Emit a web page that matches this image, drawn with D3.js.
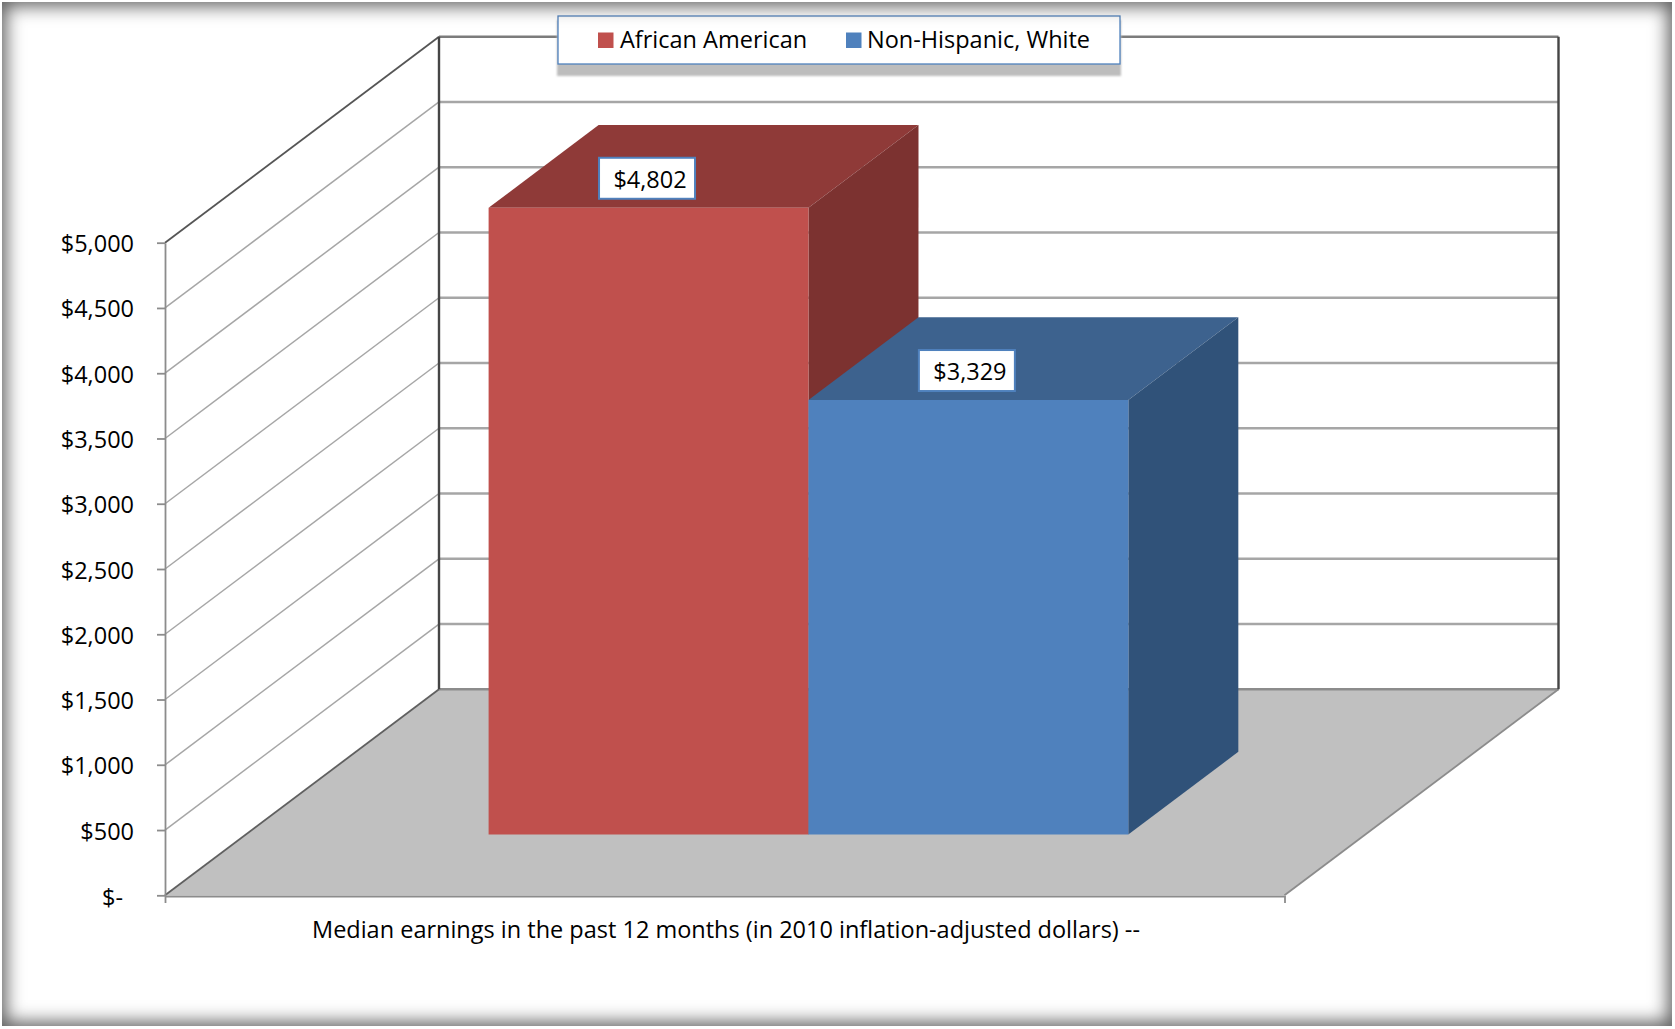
<!DOCTYPE html>
<html>
<head>
<meta charset="utf-8">
<script src="https://cdn.jsdelivr.net/npm/d3@7"></script>
<style>
    html, body { margin: 0; padding: 0; background: #ffffff; overflow: hidden; }
    #chart { position: relative; width: 1675px; height: 1029px; }
    #chart svg { position: absolute; left: 0; top: 0; }
    /* picture frame: soft grey glow running in from the edges */
    #frame {
        position: absolute; left: 2px; top: 2px; width: 1670px; height: 1024px;
        box-shadow: inset 0 0 18px 4px #5c5c5c;
        pointer-events: none;
    }
    text { font-family: "Open Sans", sans-serif; fill: #000000; }
</style>
</head>
<body>
<div id="chart"><div id="frame"></div></div>
<script>
// Data
const categories = ["Median earnings in the past 12 months (in 2010 inflation-adjusted dollars) --"];
const seriesNames = ["African American", "Non-Hispanic, White"];
const seriesValues = [4802, 3329];
const yTicks = [0, 500, 1000, 1500, 2000, 2500, 3000, 3500, 4000, 4500, 5000];
const dataLabels = ["$4,802", "$3,329"];

// Colours per series: front, top, side
const fronts = ["#c0504d", "#4f81bd"];
const tops = ["#8f3a38", "#3d628e"];
const sides = ["#7c3230", "#305279"];

const W = 1675, H = 1029;
const plotLeft = 165, plotRight = 1284.5;
const depthX = 274, depthY = 206;
const barZ = [0.295, 0.6965];   // bars stand in the middle of the floor depth

const svg = d3.select("#chart").insert("svg", "#frame")
    .attr("width", W)
    .attr("height", H)
    .attr("viewBox", `0 0 ${W} ${H}`);

const defs = svg.append("defs");
defs.append("filter").attr("id", "soft")
    .attr("x", "-5%").attr("y", "-20%").attr("width", "110%").attr("height", "140%")
    .append("feGaussianBlur").attr("stdDeviation", 1);
defs.append("filter").attr("id", "hair")
    .attr("filterUnits", "userSpaceOnUse")
    .attr("x", 0).attr("y", 0).attr("width", W).attr("height", H)
    .append("feGaussianBlur").attr("stdDeviation", 0.5);

// Scales
const yScale = d3.scaleLinear().domain([0, 5000]).range([895.3, 242.7]);
const xScale = d3.scaleBand()
    .domain(seriesNames)
    .range([plotLeft, plotRight])
    .paddingInner(0)
    .paddingOuter(0.75)
    .align(0.506);

// Oblique projection: front x, value, depth 0..1
const project = (x, v, z) => [x + z * depthX, yScale(v) - z * depthY];
const poly = pts => pts.map(p => p.join(",")).join(" ");
const drawLine = (g, a, b, stroke, sw) => g.append("line")
    .attr("x1", a[0]).attr("y1", a[1])
    .attr("x2", b[0]).attr("y2", b[1])
    .attr("stroke", stroke)
    .attr("stroke-width", sw);

// Floor
const walls = svg.append("g").attr("filter", "url(#hair)");
walls.append("polygon")
    .attr("points", poly([
        project(plotLeft, 0, 0), project(plotRight, 0, 0),
        project(plotRight, 0, 1), project(plotLeft, 0, 1)
    ]))
    .attr("fill", "#c0c0c0");

// Grid lines: side wall, then back wall
yTicks.forEach(v => {
    if (v === 0) return;
    const isTop = v === 5000;
    drawLine(walls, project(plotLeft, v, 0), project(plotLeft, v, 1), isTop ? "#555555" : "#a6a6a6", isTop ? 1.8 : 1.5);
    drawLine(walls, project(plotLeft, v, 1), project(plotRight, v, 1), isTop ? "#7c7c7c" : "#a6a6a6", 2.4);
});

// Floor edges and wall corners
drawLine(walls, project(plotLeft, 0, 0), project(plotLeft, 0, 1), "#606060", 1.8);
drawLine(walls, project(plotRight, 0, 0), project(plotRight, 0, 1), "#8c8c8c", 1.8);
drawLine(walls, project(plotLeft, 0, 1), project(plotRight, 0, 1), "#8c8c8c", 2.4);
drawLine(walls, project(plotLeft, 0, 1), project(plotLeft, 5000, 1), "#444444", 2.4);
drawLine(walls, project(plotRight, 0, 1), project(plotRight, 5000, 1), "#444444", 2.4);

// Axes
const yAxis = svg.append("g")
    .attr("transform", `translate(${plotLeft},0)`)
    .call(d3.axisLeft(yScale)
        .tickValues(yTicks)
        .tickSize(8)
        .tickSizeOuter(0)
        .tickPadding(23)
        .tickFormat(d => d === 0 ? "$-" : "$" + d3.format(",")(d)));
yAxis.select(".domain").attr("stroke", "#8c8c8c").attr("stroke-width", 1.8);
yAxis.selectAll(".tick line").attr("stroke", "#8c8c8c").attr("stroke-width", 1.8);
yAxis.selectAll(".tick text")
    .style("font-size", "23px")
    .attr("dy", d => d === 0 ? "10.5px" : "9px")
    .attr("dx", d => d === 0 ? "-11px" : "0px");
yAxis.attr("font-family", null).attr("font-size", null);

const edgeScale = d3.scaleLinear().domain([0, 1]).range([plotLeft, plotRight]);
const xAxis = svg.append("g")
    .attr("transform", "translate(0,896)")
    .call(d3.axisBottom(edgeScale).tickValues([0, 1]).tickSize(7).tickSizeOuter(0).tickFormat(""));
xAxis.select(".domain").attr("stroke", "#8c8c8c").attr("stroke-width", 2);
xAxis.selectAll(".tick line").attr("stroke", "#8c8c8c").attr("stroke-width", 1.8);

// Category label
const caption = svg.selectAll(".category")
    .data(categories)
    .enter()
    .append("text")
    .attr("class", "category")
    .attr("x", 726)
    .attr("y", 938)
    .attr("text-anchor", "middle")
    .style("font-size", "23px")
    .text(d => d);

// 3D bars
const bars = svg.selectAll(".bar")
    .data(seriesNames)
    .enter()
    .append("g")
    .attr("class", "bar");

bars.append("polygon")
    .attr("fill", (d, i) => tops[i])
    .attr("points", (d, i) => {
        const x0 = xScale(d), x1 = x0 + xScale.bandwidth(), v = seriesValues[i];
        return poly([project(x0, v, barZ[0]), project(x1, v, barZ[0]), project(x1, v, barZ[1]), project(x0, v, barZ[1])]);
    });
bars.append("polygon")
    .attr("fill", (d, i) => sides[i])
    .attr("points", (d, i) => {
        const x1 = xScale(d) + xScale.bandwidth(), v = seriesValues[i];
        return poly([project(x1, 0, barZ[0]), project(x1, v, barZ[0]), project(x1, v, barZ[1]), project(x1, 0, barZ[1])]);
    });
bars.append("polygon")
    .attr("fill", (d, i) => fronts[i])
    .attr("points", (d, i) => {
        const x0 = xScale(d), x1 = x0 + xScale.bandwidth(), v = seriesValues[i];
        return poly([project(x0, 0, barZ[0]), project(x1, 0, barZ[0]), project(x1, v, barZ[0]), project(x0, v, barZ[0])]);
    });

// Value boxes over the bar tops
const valueLabels = svg.selectAll(".value-label")
    .data(seriesNames)
    .enter()
    .append("g")
    .attr("class", "value-label")
    .attr("transform", (d, i) => {
        const p = project(xScale(d) + xScale.bandwidth() / 2, seriesValues[i], barZ[0]);
        return `translate(${p[0] - 1.5},${p[1] - 29.5})`;
    });
valueLabels.append("rect")
    .attr("x", -48).attr("y", -20.5)
    .attr("width", 96).attr("height", 41)
    .attr("fill", "#ffffff")
    .attr("stroke", "#4f81bd")
    .attr("stroke-width", 2);
const valueTexts = valueLabels.append("text")
    .attr("x", 3)
    .attr("y", 9.5)
    .attr("text-anchor", "middle")
    .style("font-size", "23px")
    .text((d, i) => dataLabels[i]);

// Legend
const legend = svg.append("g").attr("class", "legend");
legend.append("rect")
    .attr("x", 557).attr("y", 20)
    .attr("width", 564).attr("height", 56)
    .attr("fill", "#bdbdbd")
    .attr("filter", "url(#soft)");
legend.append("rect")
    .attr("x", 558).attr("y", 16)
    .attr("width", 562).attr("height", 48)
    .attr("fill", "#ffffff")
    .attr("stroke", "#4f81bd")
    .attr("stroke-width", 1.3);
const legendX = d3.scaleOrdinal().domain(seriesNames).range([598, 846]);
const legendItems = legend.selectAll(".item")
    .data(seriesNames)
    .enter()
    .append("g")
    .attr("class", "item")
    .attr("transform", d => `translate(${legendX(d)},32.5)`);
legendItems.append("rect")
    .attr("width", 15.5).attr("height", 15.5)
    .attr("fill", (d, i) => fronts[i]);
const legendTexts = legendItems.append("text")
    .attr("x", (d, i) => i === 0 ? 22 : 21)
    .attr("y", 15.2)
    .style("font-size", "23px")
    .text(d => d);

// Reference face is narrower than Open Sans, squeeze all text by the same factor
const squeeze = 828 / caption.node().getComputedTextLength();
svg.selectAll("text").each(function() {
    d3.select(this)
        .attr("lengthAdjust", "spacingAndGlyphs")
        .attr("textLength", this.getComputedTextLength() * squeeze);
});
</script>
</body>
</html>
